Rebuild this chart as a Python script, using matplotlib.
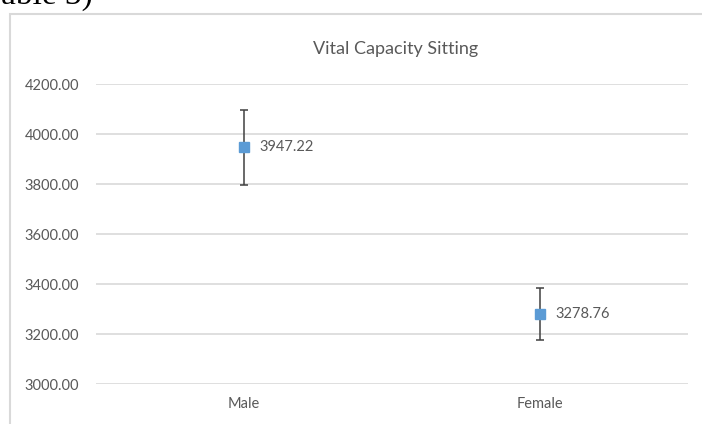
import matplotlib.pyplot as plt
from matplotlib.patches import Rectangle

# data
groups = ["Male", "Female"]
means = [3947.22, 3278.76]
errors = [150, 104]
yticks = [3000, 3200, 3400, 3600, 3800, 4000, 4200]

plt.rcParams['font.family'] = ['Lato', 'DejaVu Sans']
grey = "#595959"

fig = plt.figure(figsize=(7.02, 4.24), dpi=100)
W, H = 702, 424

# chart border (cropped at right and bottom like the screenshot)
fig.patches.append(Rectangle((10 / W, -0.1), 1.0, 1 - 14 / H + 0.1,
                             transform=fig.transFigure, fill=False,
                             edgecolor="#d9d9d9", linewidth=1.5))
# caption cut off at the top of the screenshot
fig.text(93 / W, 1 - 4 / H, "(Table 3)", ha="right", va="baseline",
         fontsize=24, family="Liberation Serif")

ax = fig.add_axes([96 / W, 1 - 384 / H, 592 / W, 300 / H])
x = [0.5, 1.5]
ax.errorbar(x, means, yerr=errors, fmt="s", color="#5B9BD5", markersize=7,
            ecolor="#404040", elinewidth=1.1, capsize=3, capthick=1.1, zorder=3)
for xi, m in zip(x, means):
    ax.annotate(f"{m:.2f}", (xi, m), xytext=(11, 0), textcoords="offset points",
                va="center", ha="left", fontsize=10.5, color=grey)

ax.set_xlim(0, 2)
ax.set_ylim(3000, 4200)
ax.set_yticks(yticks)
ax.set_yticklabels([f"{v:.2f}" for v in yticks])
ax.set_xticks(x)
ax.set_xticklabels(groups)
ax.tick_params(length=0, labelsize=10.5, labelcolor=grey, pad=9)
ax.tick_params(axis="y", pad=12)
ax.grid(axis="y", color="#d9d9d9", linewidth=1.2)
ax.set_axisbelow(True)
for s in ax.spines.values():
    s.set_visible(False)

fig.text(396 / W, 1 - 49 / H, "Vital Capacity Sitting", ha="center", va="center",
         fontsize=13, color=grey)

fig.savefig("out.png", dpi=100)
